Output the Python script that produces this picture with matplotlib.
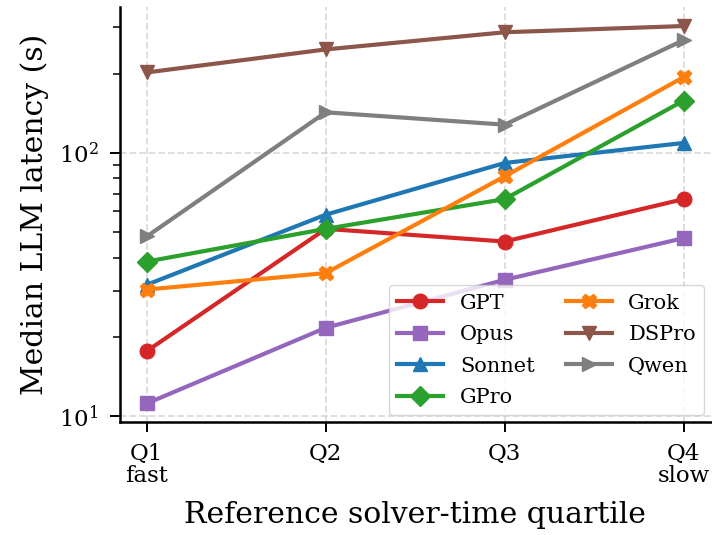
import matplotlib
matplotlib.use("Agg")
import matplotlib.pyplot as plt
from matplotlib.ticker import NullFormatter

plt.rcParams['font.family'] = ['DejaVu Serif']
plt.rcParams['mathtext.fontset'] = 'dejavuserif'

quartiles = ["Q1\nfast", "Q2", "Q3", "Q4\nslow"]
gpt = [17.7, 51.5, 46.1, 66.8]
opus = [11.2, 21.7, 33.0, 47.5]
sonnet = [31.6, 58.3, 91.6, 109.1]
gpro = [38.7, 51.5, 66.8, 158]
grok = [30.3, 35.0, 81.5, 194]
dspro = [202, 247, 287, 303]
qwen = [48.2, 142.6, 128, 268]

series = [
    ("GPT", gpt, "#d62728", "o"),
    ("Opus", opus, "#9467bd", "s"),
    ("Sonnet", sonnet, "#1f77b4", "^"),
    ("GPro", gpro, "#2ca02c", "D"),
    ("Grok", grok, "#ff7f0e", "X"),
    ("DSPro", dspro, "#8c564b", "v"),
    ("Qwen", qwen, "#7f7f7f", ">"),
]

fig = plt.figure(figsize=(7.12, 5.35), dpi=100)
ax = fig.add_axes([0.1685, 0.2118, 0.8295, 0.7752])
x = list(range(len(quartiles)))
for name, vals, col, mk in series:
    ax.plot(x, vals, color=col, marker=mk, lw=3, ms=10.5, label=name)

ax.set_yscale('log')
ax.set_ylim(9.55, 358)
ax.set_xlim(-0.15, 3.15)
ax.set_xticks(x)
ax.set_xticklabels(quartiles, fontsize=16.5, linespacing=1.0)
ax.tick_params(axis='y', which='major', labelsize=16.5, length=7.5, width=1.4, pad=8)
ax.tick_params(axis='y', which='minor', length=5, width=1.1)
ax.tick_params(axis='x', length=7.5, width=1.4, pad=8)
ax.yaxis.set_minor_formatter(NullFormatter())
ax.grid(True, which='major', ls='--', color='#cccccc', alpha=0.7, lw=1.3)
ax.spines['top'].set_visible(False)
ax.spines['right'].set_visible(False)
ax.spines['left'].set_linewidth(1.8)
ax.spines['bottom'].set_linewidth(1.8)
ax.set_ylabel("Median LLM latency (s)", fontsize=21.5, labelpad=7)
ax.set_xlabel("Reference solver-time quartile", fontsize=21.5, labelpad=10)
ax.legend(ncol=2, loc='lower right', fontsize=15, frameon=True, framealpha=0.8,
          handlelength=2.2, columnspacing=1.5, borderaxespad=0.3, labelspacing=0.6)
fig.savefig("out.png", dpi=100)
